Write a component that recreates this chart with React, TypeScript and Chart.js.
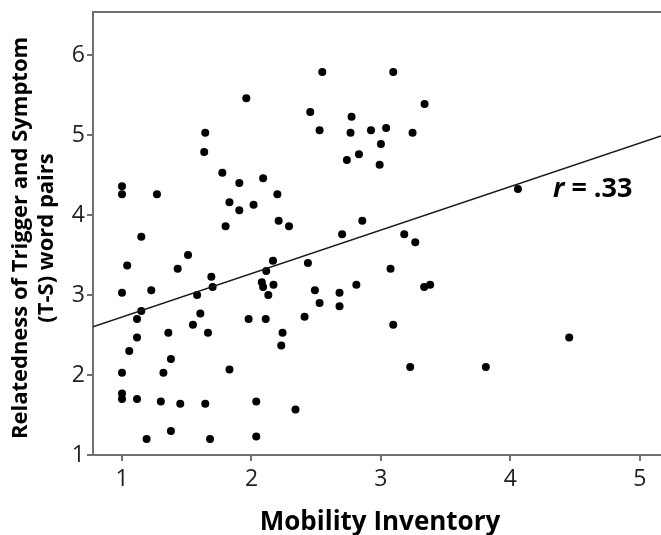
import React, { useEffect, useRef } from "react";
import { Chart, registerables } from "chart.js";

Chart.register(...registerables);

const mobility: number[] = [
  1.96, 1.643, 1.635, 1.775, 1.906, 2.09, 1.0, 1.0, 1.27, 1.83,
  1.906, 2.016, 2.2, 2.21, 2.29, 1.8, 1.149, 1.04, 1.51, 1.43,
  1.0, 1.226, 1.69, 1.7, 1.58, 1.149, 1.116, 1.605, 1.548, 1.358,
  1.664, 1.116, 1.056, 1.378, 1.0, 1.32, 1.83, 1.0, 1.0, 1.116,
  1.3, 1.45, 1.643, 2.037, 1.378, 1.19, 1.68, 2.037, 1.978, 2.11,
  2.24, 2.23, 2.166, 2.114, 2.08, 2.09, 2.17, 2.13, 2.547, 3.095,
  3.337, 2.454, 2.773, 2.526, 2.765, 2.923, 3.04, 3.244, 3.0, 2.83,
  2.737, 2.99, 2.856, 2.7, 3.18, 3.265, 2.436, 3.074, 2.49, 2.68,
  2.81, 3.334, 3.38, 2.526, 2.68, 2.41, 3.095, 3.226, 2.34, 4.058,
  4.454, 3.81,
];

const relatedness: number[] = [
  5.46, 5.03, 4.79, 4.53, 4.4, 4.46, 4.36, 4.26, 4.26, 4.16,
  4.06, 4.13, 4.26, 3.93, 3.86, 3.86, 3.73, 3.37, 3.5, 3.33,
  3.03, 3.06, 3.23, 3.1, 3.0, 2.8, 2.7, 2.77, 2.63, 2.53,
  2.53, 2.47, 2.3, 2.2, 2.03, 2.03, 2.07, 1.77, 1.7, 1.7,
  1.67, 1.64, 1.64, 1.67, 1.3, 1.2, 1.2, 1.23, 2.7, 2.7,
  2.53, 2.37, 3.43, 3.3, 3.16, 3.1, 3.13, 3.0, 5.79, 5.79,
  5.39, 5.29, 5.23, 5.06, 5.03, 5.06, 5.09, 5.03, 4.89, 4.76,
  4.69, 4.63, 3.93, 3.76, 3.76, 3.66, 3.4, 3.33, 3.06, 3.03,
  3.13, 3.1, 3.13, 2.9, 2.86, 2.73, 2.63, 2.1, 1.57, 4.325,
  2.47, 2.1,
];

const xTicks: number[] = [1, 2, 3, 4, 5];
const yTicks: number[] = [1, 2, 3, 4, 5, 6];
const xRange: number[] = [0.776, 5.163];
const yRange: number[] = [1, 6.54];
const fitIntercept = 2.182;
const fitSlope = 0.544;

const xTitle = "Mobility Inventory";
const yTitleLines: string[] = ["Relatedness of Trigger and Symptom", "(T-S) word pairs"];
const rLabel = "r";
const rValue = " = .33";

export default function App() {
  const ref = useRef<HTMLCanvasElement | null>(null);

  useEffect(() => {
    document.body.style.margin = "0";
    const canvas = ref.current;
    if (!canvas) return;

    const points = mobility.map((x, i) => ({ x, y: relatedness[i] }));
    const fitLine = xRange.map((x) => ({ x, y: fitIntercept + fitSlope * x }));

    const decor = {
      id: "decor",
      afterDraw(chart: any) {
        const { ctx, chartArea, width } = chart;
        ctx.save();
        ctx.strokeStyle = "#707070";
        ctx.lineWidth = 2;
        // top frame line
        ctx.beginPath();
        ctx.moveTo(chartArea.left - 1, chartArea.top);
        ctx.lineTo(width, chartArea.top);
        ctx.stroke();

        // x title
        ctx.fillStyle = "#000";
        ctx.font = "bold 26px 'Open Sans'";
        ctx.textAlign = "center";
        ctx.textBaseline = "alphabetic";
        ctx.fillText(xTitle, 380, 530);

        // y title
        ctx.save();
        ctx.rotate(-Math.PI / 2);
        ctx.font = "bold 22px 'Open Sans'";
        ctx.fillText(yTitleLines[0], -238, 27);
        ctx.fillText(yTitleLines[1], -238, 53);
        ctx.restore();

        // r label
        ctx.textAlign = "left";
        ctx.font = "italic bold 27px 'Open Sans'";
        const rw = ctx.measureText(rLabel).width;
        ctx.fillText(rLabel, 553, 197);
        ctx.font = "bold 27px 'Open Sans'";
        ctx.fillText(rValue, 553 + rw, 197);
        ctx.restore();
      },
    };

    const chart = new Chart(canvas, {
      type: "scatter",
      data: {
        datasets: [
          {
            label: "fit",
            type: "line",
            data: fitLine,
            borderColor: "#1a1a1a",
            borderWidth: 1.5,
            pointRadius: 0,
            showLine: true,
            fill: false,
          } as any,
          {
            label: "points",
            data: points,
            backgroundColor: "#000",
            borderColor: "#000",
            pointRadius: 4,
            pointBorderWidth: 0,
          },
        ],
      },
      options: {
        responsive: false,
        animation: false,
        layout: { autoPadding: false, padding: { top: 12, right: 0, left: 0, bottom: 0 } },
        plugins: {
          legend: { display: false },
          tooltip: { enabled: false },
        },
        scales: {
          x: {
            type: "linear",
            min: xRange[0],
            max: xRange[1],
            afterBuildTicks: (scale: any) => {
              scale.ticks = xTicks.map((v) => ({ value: v }));
            },
            afterFit: (scale: any) => {
              scale.height = 80;
              scale.paddingLeft = 0;
              scale.paddingRight = 0;
            },
            grid: {
              drawOnChartArea: false,
              drawTicks: true,
              tickLength: 6,
              color: "#707070",
              lineWidth: 2,
            },
            border: { display: true, color: "#707070", width: 2 },
            ticks: {
              color: "#222",
              font: { family: "'Open Sans'", size: 23 },
              padding: 5,
              maxRotation: 0,
            },
          },
          y: {
            type: "linear",
            min: yRange[0],
            max: yRange[1],
            afterBuildTicks: (scale: any) => {
              scale.ticks = yTicks.map((v) => ({ value: v }));
            },
            afterFit: (scale: any) => {
              scale.width = 93;
              scale.paddingTop = 0;
              scale.paddingBottom = 0;
            },
            grid: {
              drawOnChartArea: false,
              drawTicks: true,
              tickLength: 6,
              color: "#707070",
              lineWidth: 2,
            },
            border: { display: true, color: "#707070", width: 2 },
            ticks: {
              color: "#222",
              font: { family: "'Open Sans'", size: 23 },
              padding: 2,
            },
          },
        },
      },
      plugins: [decor],
    });

    return () => chart.destroy();
  }, []);

  return (
    <canvas
      ref={ref}
      width={661}
      height={535}
      style={{ display: "block", width: 661, height: 535 }}
    />
  );
}
